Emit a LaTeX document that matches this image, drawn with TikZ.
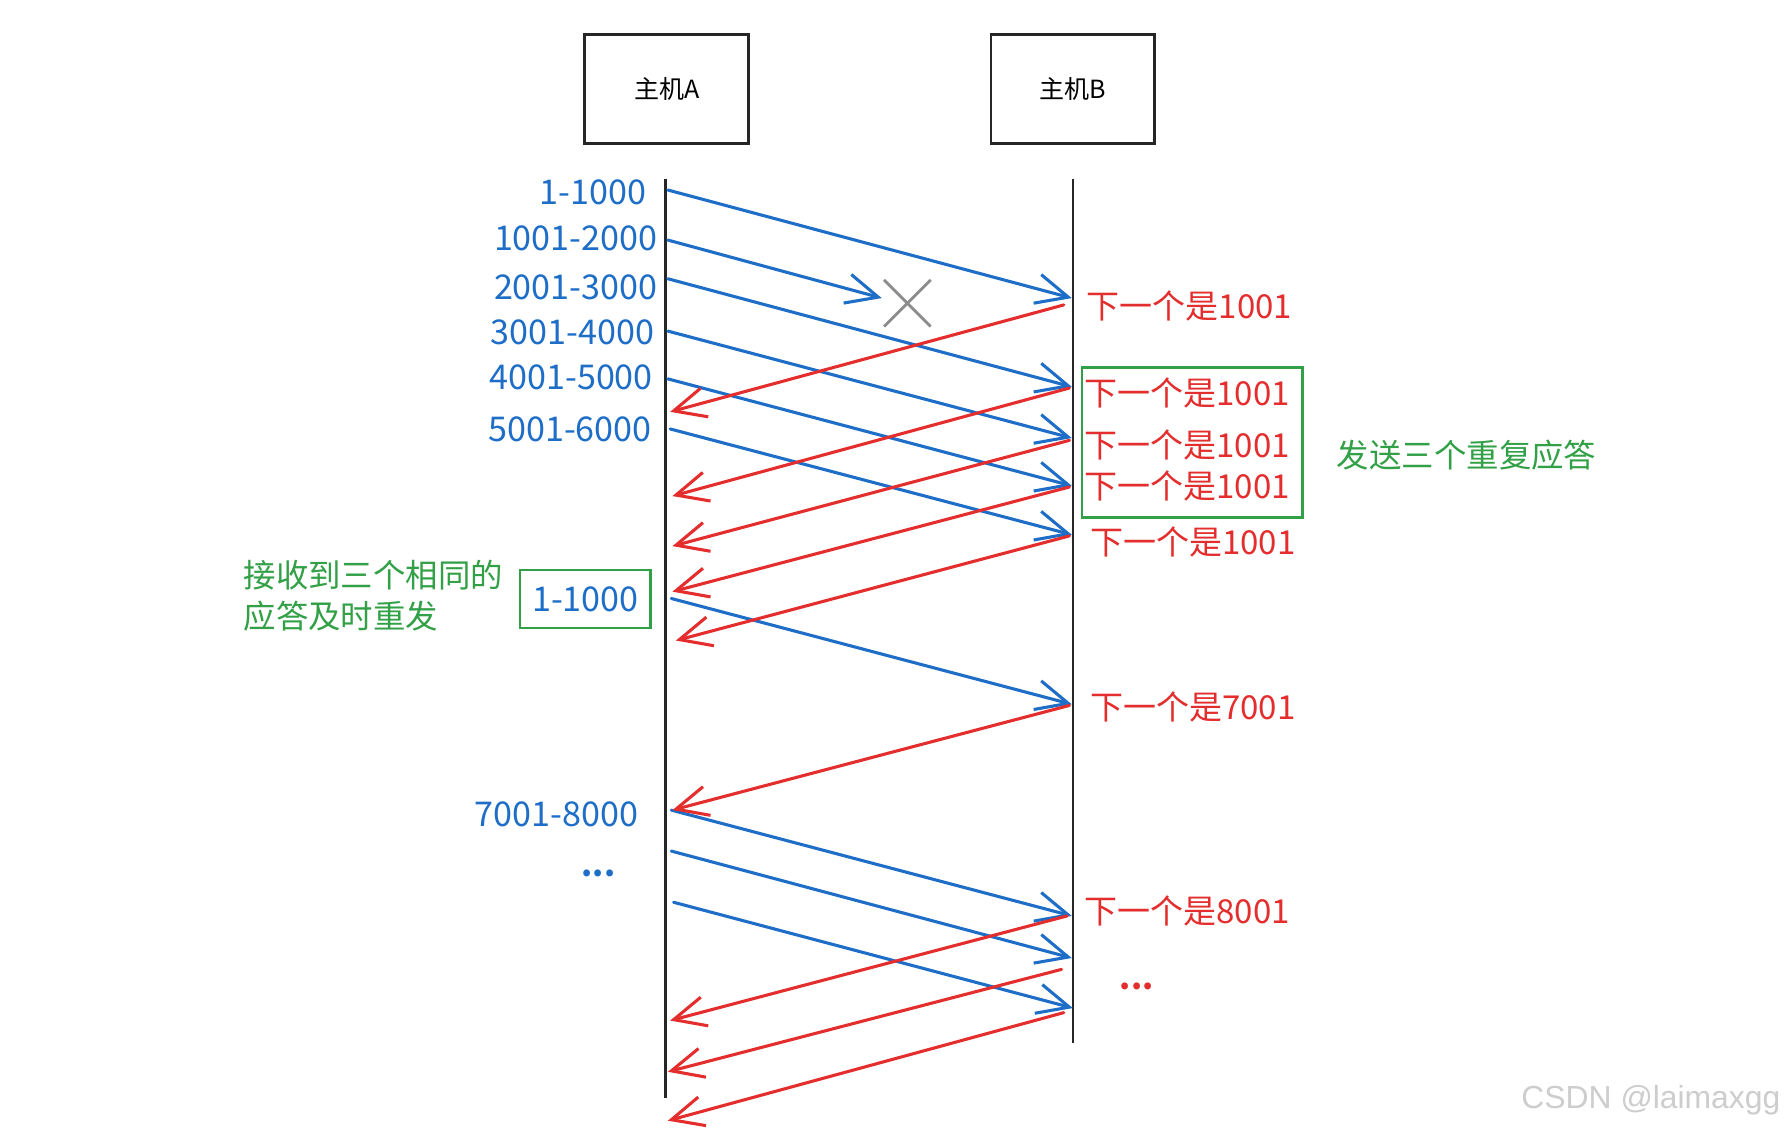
\documentclass[tikz,border=0pt]{standalone}
\usepackage{fontspec}
\setmainfont{Noto Sans CJK SC}
\newfontfamily\wmfont{Liberation Sans}
\usetikzlibrary{arrows.meta}
\definecolor{ablue}{RGB}{30,110,200}
\definecolor{ared}{RGB}{228,45,45}
\definecolor{agreen}{RGB}{50,160,70}
\definecolor{agray}{RGB}{140,140,140}
\definecolor{wmgray}{RGB}{205,205,205}
\begin{document}
\begin{tikzpicture}[x=1pt,y=-1pt,
 host/.style={draw=black!85, line width=2.5pt, minimum width=144pt, minimum height=96pt, inner sep=0pt, font=\fontsize{22}{24}\selectfont},
 lifeline/.style={draw=black!85, line width=2.2pt},
 tipv/.style={-{Straight Barb[length=28pt,width=26pt]}, line cap=round, line join=round},
 segarrow/.style={ablue, line width=2.7pt, tipv},
 ackarrow/.style={ared, line width=2.7pt, tipv},
 seglbl/.style={text=ablue, anchor=base east, inner sep=0pt, font=\fontsize{30}{32}\selectfont},
 acklbl/.style={text=ared, anchor=base west, inner sep=0pt, font=\fontsize{29}{32}\selectfont},
 gbox/.style={draw=agreen, line width=2.5pt, inner sep=0pt},
 notetxt/.style={text=agreen, inner sep=0pt, font=\fontsize{28.5}{36}\selectfont},
]
\useasboundingbox[fill=white] (0,0) rectangle (1568,993);

% hosts
\node[host] (hA) at (586,78) {主机A};
\node[host] (hB) at (943,78) {主机B};

% lifelines
\coordinate (Atop) at (585,157); \coordinate (Abot) at (585,965);
\coordinate (Btop) at (943,157); \coordinate (Bbot) at (943,917);
\draw[lifeline] (Atop) -- (Abot);
\draw[lifeline] (Btop) -- (Bbot);

% segment endpoints
\coordinate (s1a) at (587,167); \coordinate (s1b) at (942,262);
\coordinate (s2a) at (587,211); \coordinate (s2b) at (775,262);
\coordinate (s3a) at (587,245); \coordinate (s3b) at (942,340);
\coordinate (s4a) at (587,291); \coordinate (s4b) at (942,385);
\coordinate (s5a) at (587,333); \coordinate (s5b) at (942,427);
\coordinate (s6a) at (589,377); \coordinate (s6b) at (942,470);
\coordinate (s7a) at (590,526); \coordinate (s7b) at (942,619);
\coordinate (s8a) at (590,712); \coordinate (s8b) at (942,805);
\coordinate (s9a) at (590,748); \coordinate (s9b) at (942,842);
\coordinate (s10a) at (592,793); \coordinate (s10b) at (943,886);

\coordinate (r1a) at (935,268); \coordinate (r1b) at (589,362);
\coordinate (r2a) at (940,341); \coordinate (r2b) at (591,436);
\coordinate (r3a) at (940,387); \coordinate (r3b) at (591,480);
\coordinate (r4a) at (940,428); \coordinate (r4b) at (591,520);
\coordinate (r5a) at (940,471); \coordinate (r5b) at (594,563);
\coordinate (r6a) at (940,620); \coordinate (r6b) at (591,712);
\coordinate (r7a) at (938,805); \coordinate (r7b) at (589,897);
\coordinate (r8a) at (933,852); \coordinate (r8b) at (587,942);
\coordinate (r9a) at (935,890); \coordinate (r9b) at (587,985);

% blue data segments
\foreach \i in {1,...,10} { \draw[segarrow] (s\i a) -- (s\i b); }
% red acks
\foreach \i in {1,...,9} { \draw[ackarrow] (r\i a) -- (r\i b); }

% lost-segment cross
\coordinate (x1) at (777,246); \coordinate (x2) at (818,287);
\coordinate (x3) at (818,246); \coordinate (x4) at (777,287);
\draw[agray, line width=2.5pt] (x1) -- (x2) (x3) -- (x4);

% segment labels
\node[seglbl] (l1) at (568,180) {1-1000};
\node[seglbl] (l2) at (578,220) {1001-2000};
\node[seglbl] (l3) at (578,263) {2001-3000};
\node[seglbl] (l4) at (575,303) {3001-4000};
\node[seglbl] (l5) at (574,342) {4001-5000};
\node[seglbl] (l6) at (573,388) {5001-6000};
\node[seglbl] (l7) at (561,726) {7001-8000};
\node[text=ablue, anchor=base, inner sep=0pt, font=\fontsize{28}{30}\selectfont\bfseries] (ldots) at (526,770) {...};

% ack labels
\node[acklbl] (k1) at (955,280) {下一个是1001};
\node[acklbl] (k2) at (953,356) {下一个是1001};
\node[acklbl] (k3) at (953,402) {下一个是1001};
\node[acklbl] (k4) at (953,438) {下一个是1001};
\node[acklbl] (k5) at (958,487) {下一个是1001};
\node[acklbl] (k6) at (958,632) {下一个是7001};
\node[acklbl] (k7) at (953,812) {下一个是8001};
\node[text=ared, anchor=base, inner sep=0pt, font=\fontsize{28}{30}\selectfont\bfseries] (kdots) at (999,870) {...};

% green boxes and notes
\node[gbox, minimum width=194pt, minimum height=132pt] (gright) at (1048,389) {};
\node[notetxt] (nright) at (1289,400) {发送三个重复应答};
\node[gbox, minimum width=115pt, minimum height=51pt, text=ablue, font=\fontsize{30}{32}\selectfont] (gleft) at (514.5,526.5) {1-1000};
\node[notetxt, align=left, anchor=west] (nleft) at (214,524) {接收到三个相同的\\应答及时重发};

% watermark
\node[text=wmgray, anchor=east, inner sep=0pt, font=\wmfont\fontsize{28}{30}\selectfont] (wm) at (1565,967) {CSDN @laimaxgg};
\end{tikzpicture}
\end{document}
